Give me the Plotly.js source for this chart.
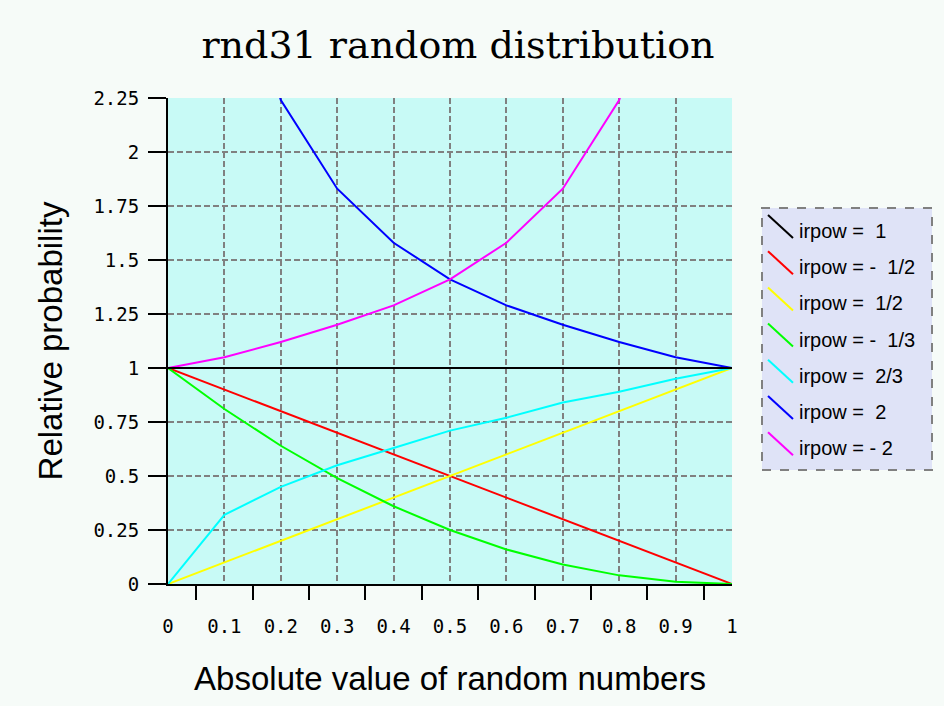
<!DOCTYPE html>
<html>
<head>
<meta charset="utf-8">
<script src="https://cdn.plot.ly/plotly-3.0.1.min.js"></script>
<style>
  html, body { margin: 0; padding: 0; background: #f6fbf8; }
  #chart { width: 944px; height: 706px; }
</style>
</head>
<body>
<div id="chart"></div>
<script>
// ---- data ----
const xValues = [0, 0.1, 0.2, 0.3, 0.4, 0.5, 0.6, 0.7, 0.8, 0.9, 1];
const pow1      = [1, 1, 1, 1, 1, 1, 1, 1, 1, 1, 1];
const powM1_2   = [1, 0.9, 0.8, 0.7, 0.6, 0.5, 0.4, 0.3, 0.2, 0.1, 0];
const pow1_2    = [0, 0.1, 0.2, 0.3, 0.4, 0.5, 0.6, 0.7, 0.8, 0.9, 1];
const powM1_3   = [1, 0.81, 0.64, 0.49, 0.36, 0.25, 0.16, 0.09, 0.04, 0.01, 0];
const pow2_3    = [0, 0.32, 0.45, 0.55, 0.63, 0.71, 0.77, 0.84, 0.89, 0.95, 1];
const pow2      = [null, 3.16, 2.24, 1.83, 1.58, 1.41, 1.29, 1.2, 1.12, 1.05, 1];
const powM2     = [1, 1.05, 1.12, 1.2, 1.29, 1.41, 1.58, 1.83, 2.24, 3.16, null];

const seriesNames = ['irpow =  1', 'irpow = -  1/2', 'irpow =  1/2', 'irpow = -  1/3',
                     'irpow =  2/3', 'irpow =  2', 'irpow = - 2'];
const seriesValues = [pow1, powM1_2, pow1_2, powM1_3, pow2_3, pow2, powM2];
const seriesColors = ['#000000', '#ff0000', '#ffff00', '#00ff00', '#00ffff', '#0000ff', '#ff00ff'];

const xTickVals = [0, 0.1, 0.2, 0.3, 0.4, 0.5, 0.6, 0.7, 0.8, 0.9, 1];
const xTickText = ['0', '0.1', '0.2', '0.3', '0.4', '0.5', '0.6', '0.7', '0.8', '0.9', '1'];
const xMinorTicks = [0.05, 0.15, 0.25, 0.35, 0.45, 0.55, 0.65, 0.75, 0.85, 0.95];
const yTickVals = [0, 0.25, 0.5, 0.75, 1, 1.25, 1.5, 1.75, 2, 2.25];
const yTickText = ['0', '0.25', '0.5', '0.75', '1', '1.25', '1.5', '1.75', '2', '2.25'];

// ---- layout helpers (pixel -> paper) ----
const L = 168, R = 732, T = 98, B = 584, W = 944, H = 706;
const px = v => (v - L) / (R - L);
const py = v => (B - v) / (B - T);

// draw order: coloured curves first, black irpow=1 line on top
const order = [1, 2, 3, 4, 5, 6, 0];
const traces = order.map(i => ({
  x: xValues, y: seriesValues[i], type: 'scatter', mode: 'lines',
  name: seriesNames[i], line: { color: seriesColors[i], width: 2 },
  showlegend: false, hoverinfo: 'skip'
}));
// invisible trace to bind the secondary (tick-only) x axis
traces.push({
  x: [0, 1], y: [0, 0], xaxis: 'x2', yaxis: 'y', type: 'scatter', mode: 'lines',
  line: { color: 'rgba(0,0,0,0)', width: 0 }, showlegend: false, hoverinfo: 'skip'
});

const shapes = [];
const annotations = [];
// legend box
shapes.push({
  type: 'rect', xref: 'paper', yref: 'paper',
  x0: px(762), x1: px(932), y0: py(470), y1: py(208),
  fillcolor: '#dfe3f7', line: { color: '#808080', width: 2, dash: 'dash' }, layer: 'above'
});
seriesNames.forEach((name, i) => {
  const top = 215 + i * 36.2;
  shapes.push({
    type: 'line', xref: 'paper', yref: 'paper',
    x0: px(768), y0: py(top), x1: px(793), y1: py(top + 23),
    line: { color: seriesColors[i], width: 2 }, layer: 'above'
  });
  annotations.push({
    xref: 'paper', yref: 'paper', x: px(797), y: py(top + 16),
    xanchor: 'left', yanchor: 'middle', showarrow: false,
    text: name.replace(/ /g, '\u00a0'),
    font: { family: 'Liberation Sans, Arial, sans-serif', size: 20, color: '#000' }
  });
});

const layout = {
  width: W, height: H,
  paper_bgcolor: '#f6fbf8',
  plot_bgcolor: '#c8faf6',
  margin: { l: L, r: W - R, t: T, b: H - B, pad: 0 },
  showlegend: false,
  title: {
    text: 'rnd31 random distribution',
    font: { family: 'DejaVu Serif, serif', size: 38, color: '#000' },
    x: 458 / W, xref: 'container', xanchor: 'center',
    y: 1 - 45 / H, yref: 'container', yanchor: 'middle'
  },
  xaxis: {
    range: [0, 1], fixedrange: true,
    tickmode: 'array', tickvals: xTickVals, ticktext: xTickText,
    ticks: 'outside', ticklen: 24, tickcolor: 'rgba(0,0,0,0)',
    tickfont: { family: 'DejaVu Sans Mono, monospace', size: 19, color: '#000' },
    showgrid: true, gridcolor: '#808080', gridwidth: 2, griddash: '6px,3px',
    zeroline: false, showline: true, linecolor: '#000', linewidth: 2,
    title: {
      text: 'Absolute value of random numbers',
      font: { family: 'Liberation Sans, Arial, sans-serif', size: 33, color: '#000' },
      standoff: 31
    }
  },
  xaxis2: {
    range: [0, 1], overlaying: 'x', anchor: 'y', side: 'bottom', fixedrange: true,
    tickmode: 'array', tickvals: xMinorTicks, showticklabels: false,
    ticks: 'outside', ticklen: 15, tickwidth: 2, tickcolor: '#000',
    showgrid: false, zeroline: false, showline: false
  },
  yaxis: {
    range: [0, 2.25], fixedrange: true,
    tickmode: 'array', tickvals: yTickVals, ticktext: yTickText,
    ticks: 'outside', ticklen: 18, tickwidth: 2, tickcolor: '#000',
    ticklabelstandoff: 5,
    tickfont: { family: 'DejaVu Sans Mono, monospace', size: 19, color: '#000' },
    showgrid: true, gridcolor: '#808080', gridwidth: 2, griddash: '6px,3px',
    zeroline: false, showline: true, linecolor: '#000', linewidth: 2,
    title: {
      text: 'Relative probability',
      font: { family: 'Liberation Sans, Arial, sans-serif', size: 33, color: '#000' },
      standoff: 21
    }
  },
  shapes: shapes,
  annotations: annotations
};

Plotly.newPlot('chart', traces, layout, { displayModeBar: false, staticPlot: true });
</script>
</body>
</html>
